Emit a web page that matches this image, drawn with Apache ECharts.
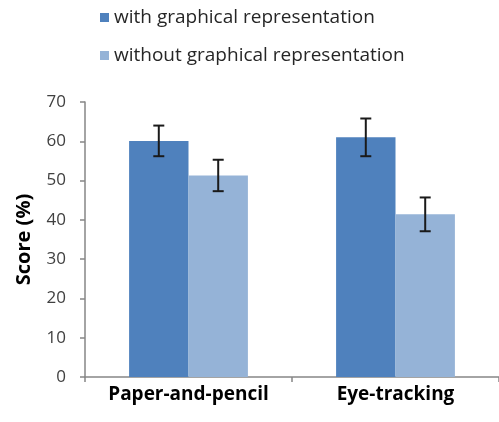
<!DOCTYPE html>
<html><head><meta charset="utf-8">
<script src="https://cdn.jsdelivr.net/npm/echarts@6/dist/echarts.min.js"></script>
<style>html,body{margin:0;padding:0;background:#fff}#c{width:499px;height:422px}</style>
</head><body><div id="c"></div>
<script>
var categories = ['Paper-and-pencil', 'Eye-tracking'];
var seriesNames = ['with graphical representation', 'without graphical representation'];
var withGraph = [60.1, 61.0];
var withGraphErr = [3.9, 4.8];
var withoutGraph = [51.3, 41.4];
var withoutGraphErr = [4.0, 4.3];
var yTicks = [0, 10, 20, 30, 40, 50, 60, 70];

var colors = ['#4F81BD', '#95B3D7'];
var BW = 0.287;
var FONT = '"Open Sans", Lato, sans-serif';

function errSeries(vals, errs, idx) {
  var data = vals.map(function (v, i) { return [i, v - errs[i], v + errs[i]]; });
  return {
    type: 'custom', name: 'err' + idx, z: 10, silent: true,
    renderItem: function (params, api) {
      var ci = api.value(0);
      var lo = api.coord([ci, api.value(1)]);
      var hi = api.coord([ci, api.value(2)]);
      var cw = api.size([1, 0])[0];
      var off = (idx === 0 ? -0.5 : 0.5) * BW * cw;
      var x = lo[0] + off;
      var h = 5.5;
      var st = { stroke: '#1a1a1a', lineWidth: 2 };
      return { type: 'group', children: [
        { type: 'line', shape: { x1: x, y1: hi[1], x2: x, y2: lo[1] }, style: st },
        { type: 'line', shape: { x1: x - h, y1: hi[1], x2: x + h, y2: hi[1] }, style: st },
        { type: 'line', shape: { x1: x - h, y1: lo[1], x2: x + h, y2: lo[1] }, style: st }
      ]};
    },
    encode: { x: 0, y: [1, 2] },
    data: data
  };
}

var chart = echarts.init(document.getElementById('c'));
chart.setOption({
  animation: false,
  color: colors,
  legend: {
    data: seriesNames, orient: 'vertical', left: 95, top: 3,
    itemWidth: 9, itemHeight: 9, itemGap: 19, icon: 'rect',
    textStyle: { fontFamily: FONT, fontSize: 19, color: '#262626' },
    selectedMode: false
  },
  grid: { left: 85, right: -4, top: 102, bottom: 45 },
  xAxis: {
    type: 'category', data: categories,
    axisLine: { lineStyle: { color: '#868686', width: 1.5 } },
    axisTick: { show: true, length: 5, lineStyle: { color: '#868686', width: 1.5 } },
    axisLabel: { interval: 0, fontFamily: FONT, fontSize: 19, fontWeight: 'bold', color: '#000', margin: 8 }
  },
  yAxis: {
    type: 'value', min: 0, max: 70, interval: 10,
    name: 'Score (%)', nameLocation: 'middle', nameGap: 51,
    nameTextStyle: { fontFamily: FONT, fontSize: 20, fontWeight: 'bold', color: '#000' },
    axisLine: { show: true, lineStyle: { color: '#868686', width: 1.5 } },
    axisTick: { show: true, length: 5, lineStyle: { color: '#868686', width: 1.5 } },
    splitLine: { show: false },
    axisLabel: { fontFamily: FONT, fontSize: 17, color: '#404040', margin: 19,
      formatter: function (v) { return yTicks.indexOf(v) >= 0 ? String(v) : ''; } }
  },
  series: [
    { type: 'bar', name: seriesNames[0], data: withGraph, barWidth: (BW * 100) + '%', barGap: '0%' },
    { type: 'bar', name: seriesNames[1], data: withoutGraph, barWidth: (BW * 100) + '%', barGap: '0%' },
    errSeries(withGraph, withGraphErr, 0),
    errSeries(withoutGraph, withoutGraphErr, 1)
  ]
});
</script></body></html>
